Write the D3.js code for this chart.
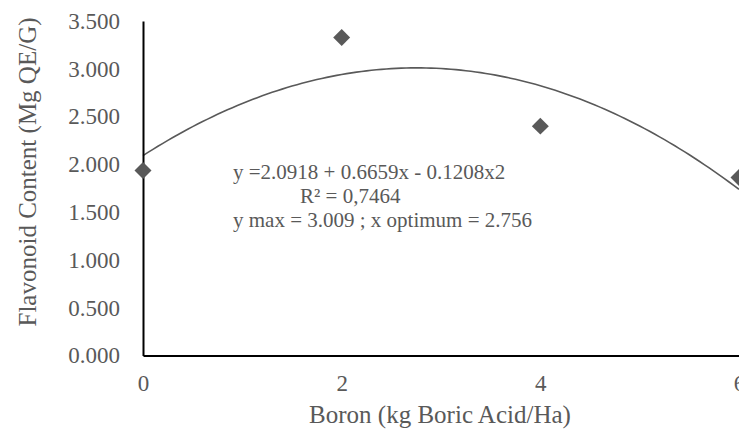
<!DOCTYPE html>
<html>
<head>
<meta charset="utf-8">
<script src="https://cdn.jsdelivr.net/npm/d3@7"></script>
<style>
  html, body { margin: 0; padding: 0; background: #fff; }
  svg { display: block; }
  text { font-family: "Liberation Serif", "Times New Roman", serif; fill: #595959; }
</style>
</head>
<body>
<svg id="chart" width="739" height="434"></svg>
<script>
// ---- data ----
const boronDoses = [0, 2, 4, 6];
const flavonoidValues = [1.935, 3.328, 2.40, 1.862];
const yTickValues = [0, 0.5, 1, 1.5, 2, 2.5, 3, 3.5];
const xTickValues = [0, 2, 4, 6];
const trendCoefficients = [2.0918, 0.6659, -0.1208]; // y = a + b x + c x^2
const equationLines = [
  "y =2.0918 + 0.6659x - 0.1208x2",
  "R² = 0,7464",
  "y max = 3.009 ; x optimum = 2.756"
];
const xTitle = "Boron (kg Boric Acid/Ha)";
const yTitle = "Flavonoid Content (Mg QE/G)";

// ---- layout ----
const svg = d3.select("#chart");
const plotLeft = 143, plotRight = 739, plotTop = 21, plotBottom = 355.5;
const x = d3.scaleLinear().domain([0, 6]).range([plotLeft, plotRight]);
const y = d3.scaleLinear().domain([0, 3.5]).range([plotBottom, plotTop]);
const grey = "#595959";

// trendline
const trendX = d3.range(0, 6.0001, 0.05);
const trend = trendX.map(v => [v, trendCoefficients[0] + trendCoefficients[1] * v + trendCoefficients[2] * v * v]);
svg.append("path")
  .datum(trend)
  .attr("fill", "none")
  .attr("stroke", grey)
  .attr("stroke-width", 1.6)
  .attr("d", d3.line().x(d => x(d[0])).y(d => y(d[1])));

// axes
const yAxis = svg.append("g").attr("transform", `translate(${plotLeft},0)`)
  .call(d3.axisLeft(y).tickValues(yTickValues).tickSize(0).tickPadding(23).tickFormat(d3.format(".3f")));
const xAxis = svg.append("g").attr("transform", `translate(0,${plotBottom})`)
  .call(d3.axisBottom(x).tickValues(xTickValues).tickSize(0).tickPadding(19).tickFormat(d3.format("d")));
[yAxis, xAxis].forEach(g => {
  g.select(".domain").attr("stroke", "#000").attr("stroke-width", 2);
  g.selectAll("text").attr("fill", grey).style("font-size", "23px")
    .style("font-family", '"Liberation Serif", "Times New Roman", serif');
});

// markers
svg.append("g").selectAll("path")
  .data(boronDoses.map((d, i) => [d, flavonoidValues[i]]))
  .join("path")
  .attr("transform", d => `translate(${x(d[0])},${y(d[1])}) rotate(45)`)
  .attr("d", "M-6,-6H6V6H-6Z")
  .attr("fill", grey);

// axis titles
svg.append("text")
  .attr("x", 440).attr("y", 423)
  .attr("text-anchor", "middle")
  .style("font-size", "25px")
  .text(xTitle);
svg.append("text")
  .attr("transform", "translate(36,172) rotate(-90)")
  .attr("text-anchor", "middle")
  .style("font-size", "25px")
  .text(yTitle);

// equation text
const eq = svg.append("g").style("font-size", "21px");
eq.append("text").attr("x", 233).attr("y", 179).text(equationLines[0]);
eq.append("text").attr("x", 300).attr("y", 203).text(equationLines[1]);
eq.append("text").attr("x", 233).attr("y", 227).text(equationLines[2]);
</script>
</body>
</html>
